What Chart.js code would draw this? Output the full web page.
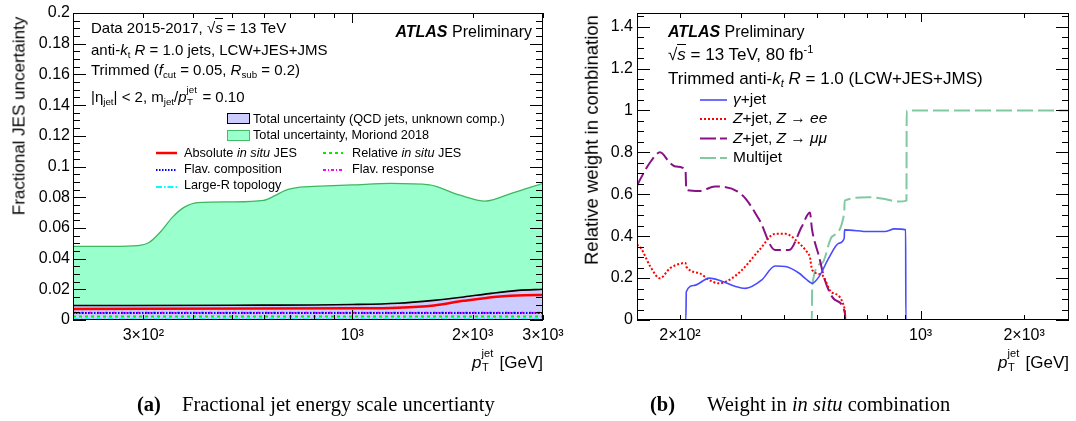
<!DOCTYPE html>
<html><head><meta charset="utf-8">
<script src="https://cdn.jsdelivr.net/npm/chart.js@4.4.1/dist/chart.umd.min.js"></script>
<style>
html,body{margin:0;padding:0;background:#fff;}
#page{position:relative;width:1076px;height:421px;overflow:hidden;background:#fff;font-family:"Liberation Sans",Arial,Helvetica,sans-serif;color:#000;}
canvas{position:absolute;top:0;}
.t{position:absolute;white-space:nowrap;line-height:1;}
.sb{font-size:65%;position:relative;top:0.35em;}
.sp{font-size:65%;position:relative;top:-0.6em;}
.ss{display:inline-block;position:relative;font-size:65%;width:1.2em;height:1em;}
.ss .u{position:absolute;left:0;top:-0.77em;}
.ss .d{position:absolute;left:0.05em;top:0.53em;}
.ov{border-top:1px solid #000;}
.rot{position:absolute;white-space:nowrap;line-height:1;transform-origin:0 0;transform:rotate(-90deg) translate(-50%,-50%);}
.cap{position:absolute;white-space:nowrap;line-height:1;font-family:"Liberation Serif","Times New Roman",serif;font-size:20.5px;}
svg{position:absolute;left:0;top:0;}
</style></head>
<body>
<div id="page">
<canvas id="cA" width="590" height="372" style="left:0;width:590px;height:372px"></canvas>
<canvas id="cB" width="516" height="372" style="left:560px;width:516px;height:372px"></canvas>

<!-- left panel annotations -->
<div class="t" style="left:91px;top:20px;font-size:15px">Data 2015-2017, √<span class="ov"><i>s</i></span> = 13 TeV</div>
<div class="t" style="left:91px;top:42px;font-size:15px">anti-<i>k</i><span class="sb">t</span> <i>R</i> = 1.0 jets, LCW+JES+JMS</div>
<div class="t" style="left:91px;top:62px;font-size:15px">Trimmed (<i>f</i><span class="sb">cut</span> = 0.05, <i>R</i><span class="sb">sub</span> = 0.2)</div>
<div class="t" style="left:91px;top:89px;font-size:15px">|η<span class="sb">jet</span>| &lt; 2, m<span class="sb">jet</span>/<i>p</i><span class="ss"><span class="u">jet</span><span class="d">T</span></span> = 0.10</div>
<div class="t" style="right:544px;top:23.5px;font-size:16px"><b><i>ATLAS</i></b> Preliminary</div>

<div class="t" style="left:253px;top:112.5px;font-size:12.7px">Total uncertainty (QCD jets, unknown comp.)</div>
<div class="t" style="left:253px;top:129.3px;font-size:12.7px">Total uncertainty, Moriond 2018</div>
<div class="t" style="left:184px;top:147px;font-size:12.7px">Absolute <i>in situ</i> JES</div>
<div class="t" style="left:184px;top:162.5px;font-size:12.7px">Flav. composition</div>
<div class="t" style="left:184px;top:178.8px;font-size:12.7px">Large-R topology</div>
<div class="t" style="left:352px;top:147px;font-size:12.7px">Relative <i>in situ</i> JES</div>
<div class="t" style="left:352px;top:162.5px;font-size:12.7px">Flav. response</div>
<div style="position:absolute;left:227px;top:113px;width:21px;height:9px;background:#ccccff;border:1.5px solid #000"></div>
<div style="position:absolute;left:227px;top:129.5px;width:21px;height:9px;background:#99ffcc;border:1.5px solid #44bb66"></div>

<div class="rot" style="left:19px;top:116px;font-size:17px">Fractional JES uncertainty</div>
<div class="t" style="right:533px;top:353.6px;font-size:17px"><i>p</i><span class="ss"><span class="u">jet</span><span class="d">T</span></span> [GeV]</div>

<!-- right panel annotations -->
<div class="t" style="left:668px;top:23.5px;font-size:16px"><b><i>ATLAS</i></b> Preliminary</div>
<div class="t" style="left:668px;top:46px;font-size:17px">√<span class="ov"><i>s</i></span> = 13 TeV, 80 fb<span class="sp">-1</span></div>
<div class="t" style="left:668px;top:69.6px;font-size:17px">Trimmed anti-<i>k</i><span class="sb"><i>t</i></span> <i>R</i> = 1.0 (LCW+JES+JMS)</div>
<div class="t" style="left:733px;top:90.9px;font-size:15.5px"><i>γ</i>+jet</div>
<div class="t" style="left:733px;top:110.4px;font-size:15.5px"><i>Z</i>+jet, <i>Z</i> → <i>ee</i></div>
<div class="t" style="left:733px;top:129.6px;font-size:15.5px"><i>Z</i>+jet, <i>Z</i> → <i>μμ</i></div>
<div class="t" style="left:733px;top:149.2px;font-size:15.5px">Multijet</div>

<div class="rot" style="left:591.5px;top:140px;font-size:18.5px">Relative weight in combination</div>
<div class="t" style="right:7px;top:353.6px;font-size:17px"><i>p</i><span class="ss"><span class="u">jet</span><span class="d">T</span></span> [GeV]</div>

<!-- legend line samples -->
<svg width="1076" height="421">
  <line x1="156" y1="153" x2="177" y2="153" stroke="#ff0000" stroke-width="2.5"/>
  <line x1="156" y1="170" x2="177" y2="170" stroke="#0000ff" stroke-width="2" stroke-dasharray="1.5 1.5"/>
  <line x1="156" y1="187" x2="177" y2="187" stroke="#00ffff" stroke-width="2" stroke-dasharray="6 2 1.5 2"/>
  <line x1="323" y1="153" x2="343" y2="153" stroke="#00ee00" stroke-width="2" stroke-dasharray="3 3"/>
  <line x1="323" y1="170" x2="343" y2="170" stroke="#ff00ff" stroke-width="2" stroke-dasharray="3 2 1 2"/>
  <line x1="700" y1="100" x2="727" y2="100" stroke="#4a4aff" stroke-width="1.6"/>
  <line x1="700" y1="119" x2="727" y2="119" stroke="#ff0000" stroke-width="2" stroke-dasharray="2 2"/>
  <line x1="700" y1="138.5" x2="727" y2="138.5" stroke="#881188" stroke-width="2" stroke-dasharray="16 4"/>
  <line x1="700" y1="158" x2="727" y2="158" stroke="#80c9a1" stroke-width="2" stroke-dasharray="16 4"/>
</svg>

<!-- captions -->
<div class="cap" style="left:137px;top:393.8px"><b>(a)</b></div>
<div class="cap" style="left:182px;top:393.8px">Fractional jet energy scale uncertianty</div>
<div class="cap" style="left:650px;top:393.8px"><b>(b)</b></div>
<div class="cap" style="left:707px;top:393.8px">Weight in <i>in situ</i> combination</div>
</div>

<script>
// ---------------- Data: panel (a) ----------------
const ptMoriond  = [200, 250, 290, 310, 330, 355, 380, 410, 500, 600, 640, 680, 740, 800, 1000, 1250, 1560, 1850, 2150, 2500, 3000];
const uncMoriond = [0.048, 0.048, 0.0485, 0.0505, 0.057, 0.067, 0.0735, 0.0765, 0.077, 0.078, 0.081, 0.0845, 0.0865, 0.087, 0.088, 0.089, 0.088, 0.0815, 0.0775, 0.0825, 0.089];
const ptTotal    = [200, 500, 1000, 1300, 1600, 1900, 2200, 2600, 3000];
const uncTotal   = [0.0094, 0.0096, 0.0101, 0.0109, 0.0128, 0.015, 0.0172, 0.0193, 0.0200];
const ptAbsolute = [200, 1000, 1300, 1600, 1900, 2300, 2700, 3000];
const uncAbsolute= [0.0072, 0.0076, 0.0080, 0.0095, 0.0125, 0.0152, 0.0162, 0.0163];
const ptFlat     = [200, 3000];
const uncRelative= [0.0022, 0.0022];
const uncFlavComp= [0.0045, 0.0045];
const uncFlavResp= [0.0048, 0.0048];
const uncLargeR  = [0.0005, 0.0005];

// ---------------- Data: panel (b) ----------------
const ptGamma  = [150, 208, 208.6, 220, 243, 260, 290, 310, 345, 378, 405, 444, 465, 484, 507, 541, 579, 600, 601.5, 707, 787, 841, 905, 906.5, 2700];
const wGamma   = [0, 0, 0.135, 0.165, 0.20, 0.19, 0.16, 0.151, 0.19, 0.258, 0.255, 0.223, 0.195, 0.175, 0.207, 0.295, 0.366, 0.39, 0.43, 0.422, 0.422, 0.435, 0.43, 0, 0];
const ptZee    = [150, 154, 164, 175, 187, 203, 207.5, 208.6, 228, 243, 260, 278, 303, 340, 378, 405, 444, 465, 477, 484, 517, 553, 603, 604.5, 2700];
const wZee     = [0.36, 0.343, 0.255, 0.199, 0.247, 0.271, 0.272, 0.255, 0.223, 0.191, 0.175, 0.191, 0.239, 0.334, 0.411, 0.411, 0.366, 0.33, 0.30, 0.24, 0.215, 0.13, 0.048, 0, 0];
const ptZmumu  = [150, 153, 165, 175, 187, 194, 207.5, 208.6, 228, 253, 303, 340, 378, 415, 452, 477, 484, 507, 527, 564, 603, 604.5, 2700];
const wZmumu   = [0.64, 0.669, 0.76, 0.80, 0.75, 0.733, 0.717, 0.621, 0.616, 0.637, 0.597, 0.478, 0.334, 0.334, 0.446, 0.513, 0.43, 0.303, 0.191, 0.096, 0.032, 0, 0];
const ptMultijet = [150, 483, 484.5, 517, 553, 600, 602, 707, 787, 864, 910, 911.5, 2700];
const wMultijet  = [0, 0, 0.167, 0.271, 0.398, 0.51, 0.57, 0.586, 0.577, 0.565, 0.57, 1.0, 1.0];

// ---------------- Axis ticks ----------------
const xTickValsA   = [200, 300, 400, 500, 600, 700, 800, 900, 1000, 2000, 3000];
const xLabelValsA  = [300, 1000, 2000, 3000];
const xLabelTextA  = ['3×10²', '10³', '2×10³', '3×10³'];
const yLabelValsA  = [0, 0.02, 0.04, 0.06, 0.08, 0.1, 0.12, 0.14, 0.16, 0.18, 0.2];
const yLabelTextA  = ['0', '0.02', '0.04', '0.06', '0.08', '0.1', '0.12', '0.14', '0.16', '0.18', '0.2'];
const xTickValsB   = [200, 300, 400, 500, 600, 700, 800, 900, 1000, 2000];
const xLabelValsB  = [200, 1000, 2000];
const xLabelTextB  = ['2×10²', '10³', '2×10³'];
const yLabelValsB  = [0, 0.2, 0.4, 0.6, 0.8, 1.0, 1.2, 1.4];
const yLabelTextB  = ['0', '0.2', '0.4', '0.6', '0.8', '1', '1.2', '1.4'];

function pts(xs, ys){ return xs.map((x,i)=>({x:x, y:ys[i]})); }

const tickFont = {family:'"Liberation Sans", Arial, sans-serif', size:16};

// ROOT-style frame with inward ticks on all four sides
const rootFrame = {
  id:'rootFrame',
  afterDatasetsDraw(chart, args, o){
    const ctx = chart.ctx, a = chart.chartArea;
    const xs = chart.scales.x, ys = chart.scales.y;
    ctx.save();
    ctx.strokeStyle = '#000'; ctx.lineWidth = 1;
    ctx.strokeRect(Math.round(a.left)+0.5, Math.round(a.top)+0.5, Math.round(a.right-a.left)-1, Math.round(a.bottom-a.top)-1);
    ctx.beginPath();
    o.xTicks.forEach(v=>{
      const px = Math.round(xs.getPixelForValue(v))+0.5;
      const L = o.xMajor.includes(v) ? o.xMajLen : o.xMinLen;
      ctx.moveTo(px, a.bottom); ctx.lineTo(px, a.bottom - L);
      ctx.moveTo(px, a.top); ctx.lineTo(px, a.top + L);
    });
    const step = o.yMinorStep;
    const n = Math.round(o.yMax/step);
    for(let i=0;i<=n;i++){
      const v = i*step;
      const isMaj = Math.abs(v/o.yMajorStep - Math.round(v/o.yMajorStep)) < 1e-6;
      const py = Math.round(ys.getPixelForValue(v))+0.5;
      const L = isMaj ? o.yMajLen : o.yMinLen;
      ctx.moveTo(a.left, py); ctx.lineTo(a.left + L, py);
      ctx.moveTo(a.right, py); ctx.lineTo(a.right - L, py);
    }
    ctx.stroke();
    ctx.restore();
  }
};

function lineDs(data, color, width, dash, order, extra){
  return Object.assign({data:data, borderColor:color, borderWidth:width, borderDash:dash, pointRadius:0,
    fill:false, cubicInterpolationMode:'monotone', order:order}, extra||{});
}

function scalesFor(cfg){
  return {
    x:{type:'logarithmic', min:cfg.xmin, max:cfg.xmax,
       grid:{display:false, drawTicks:false}, border:{display:false},
       afterBuildTicks:(s)=>{ s.ticks = cfg.xLabelVals.map(v=>({value:v})); },
       afterFit:(s)=>{ s.height = cfg.xH; s.paddingLeft=0; s.paddingRight=0; s.paddingTop=0; s.paddingBottom=0; },
       ticks:{autoSkip:false, maxRotation:0, minRotation:0, padding:6, color:'#000', font:tickFont,
              callback:(v)=>{ const i = cfg.xLabelVals.indexOf(v); return i>=0 ? cfg.xLabelText[i] : ''; }}},
    y:{type:'linear', min:0, max:cfg.ymax,
       grid:{display:false, drawTicks:false}, border:{display:false},
       afterBuildTicks:(s)=>{ s.ticks = cfg.yLabelVals.map(v=>({value:v})); },
       afterFit:(s)=>{ s.width = cfg.yW; s.paddingLeft=0; s.paddingRight=0; s.paddingTop=0; s.paddingBottom=0; },
       ticks:{autoSkip:false, padding:cfg.yPad, color:'#000', font:tickFont,
              callback:(v, i)=>{ const k = cfg.yLabelVals.findIndex(u=>Math.abs(u-v)<1e-9); return k>=0 ? cfg.yLabelText[k] : ''; }}}
  };
}

// ---------------- Chart (a) ----------------
new Chart(document.getElementById('cA'), {
  type:'line',
  data:{datasets:[
    lineDs(pts(ptMoriond, uncMoriond), '#3cb860', 1.3, [], 10, {fill:'origin', backgroundColor:'#99ffcc'}),
    lineDs(pts(ptTotal, uncTotal), '#000000', 1.6, [], 9, {fill:'origin', backgroundColor:'#ccccff'}),
    lineDs(pts(ptFlat, uncLargeR), '#00ffff', 2, [6,2,1.5,2], 8),
    lineDs(pts(ptFlat, uncRelative), '#00ee00', 2, [3,3], 7),
    lineDs(pts(ptFlat, uncFlavResp), '#ff00ff', 2, [3,2,1,2], 6),
    lineDs(pts(ptFlat, uncFlavComp), '#0000ff', 2, [1.5,1.5], 5),
    lineDs(pts(ptAbsolute, uncAbsolute), '#ff0000', 2.5, [], 4)
  ]},
  options:{
    responsive:false, animation:false, devicePixelRatio:1,
    layout:{padding:{left:0, right:47, top:13, bottom:0}},
    plugins:{legend:{display:false}, tooltip:{enabled:false},
      rootFrame:{xTicks:xTickValsA, xMajor:[1000], xMajLen:10, xMinLen:5,
                 yMax:0.2, yMajorStep:0.02, yMinorStep:0.005, yMajLen:13, yMinLen:7}},
    scales:scalesFor({xmin:200, xmax:3000, ymax:0.2, xH:52, yW:73, yPad:3,
      xLabelVals:xLabelValsA, xLabelText:xLabelTextA, yLabelVals:yLabelValsA, yLabelText:yLabelTextA})
  },
  plugins:[rootFrame]
});

// ---------------- Chart (b) ----------------
new Chart(document.getElementById('cB'), {
  type:'line',
  data:{datasets:[
    lineDs(pts(ptMultijet, wMultijet), '#80c9a1', 2, [16,5], 4),
    lineDs(pts(ptZmumu, wZmumu), '#881188', 2, [14,5], 3),
    lineDs(pts(ptZee, wZee), '#ff0000', 2, [2,2], 2),
    lineDs(pts(ptGamma, wGamma), '#4a4aff', 1.6, [], 1)
  ]},
  options:{
    responsive:false, animation:false, devicePixelRatio:1,
    layout:{padding:{left:0, right:7, top:13, bottom:0}},
    plugins:{legend:{display:false}, tooltip:{enabled:false},
      rootFrame:{xTicks:xTickValsB, xMajor:[1000], xMajLen:9, xMinLen:5,
                 yMax:1.45, yMajorStep:0.2, yMinorStep:0.05, yMajLen:13, yMinLen:7}},
    scales:scalesFor({xmin:150, xmax:2700, ymax:1.465, xH:52, yW:77, yPad:4,
      xLabelVals:xLabelValsB, xLabelText:xLabelTextB, yLabelVals:yLabelValsB, yLabelText:yLabelTextB})
  },
  plugins:[rootFrame]
});
</script>
</body></html>
